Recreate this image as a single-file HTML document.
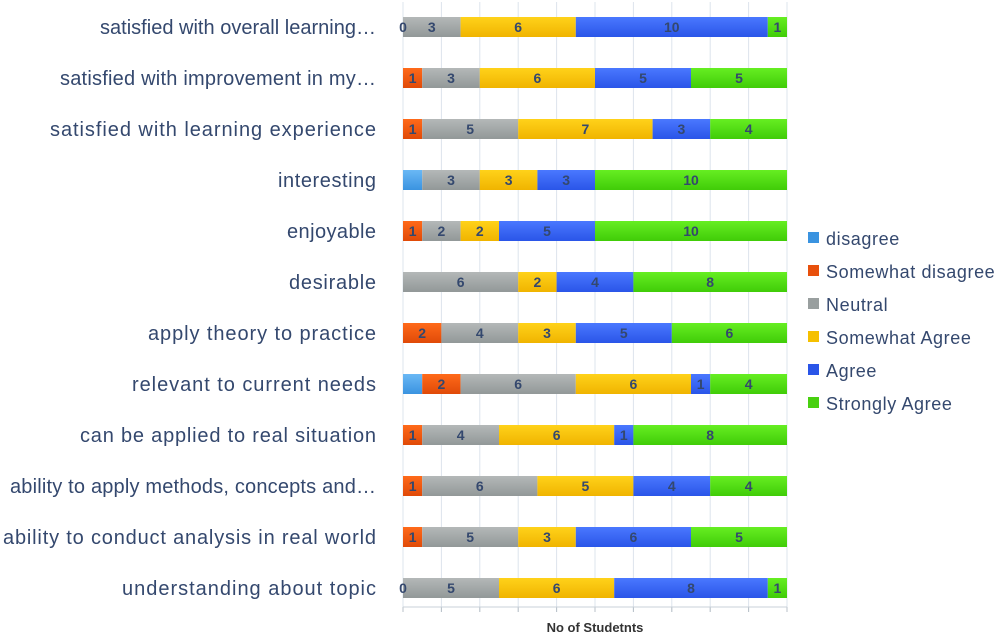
<!DOCTYPE html>
<html><head><meta charset="utf-8"><style>
body{margin:0;background:#fff;}
svg text{font-family:"Liberation Sans",sans-serif;}
</style></head><body>
<svg width="999" height="638" viewBox="0 0 999 638" xmlns="http://www.w3.org/2000/svg">
<defs>
<linearGradient id="gD" x1="0" y1="0" x2="0" y2="1"><stop offset="0" stop-color="#6ab8f5"/><stop offset="1" stop-color="#3a93e0"/></linearGradient>
<linearGradient id="gSD" x1="0" y1="0" x2="0" y2="1"><stop offset="0" stop-color="#ff6a1a"/><stop offset="1" stop-color="#e04a08"/></linearGradient>
<linearGradient id="gN" x1="0" y1="0" x2="0" y2="1"><stop offset="0" stop-color="#b4b8b8"/><stop offset="1" stop-color="#929898"/></linearGradient>
<linearGradient id="gSA" x1="0" y1="0" x2="0" y2="1"><stop offset="0" stop-color="#ffd21a"/><stop offset="1" stop-color="#f0b400"/></linearGradient>
<linearGradient id="gA" x1="0" y1="0" x2="0" y2="1"><stop offset="0" stop-color="#4a78ff"/><stop offset="1" stop-color="#2a55e8"/></linearGradient>
<linearGradient id="gS" x1="0" y1="0" x2="0" y2="1"><stop offset="0" stop-color="#66ee22"/><stop offset="1" stop-color="#40cc08"/></linearGradient>
</defs>
<g id="grid" stroke="#dde4ec" stroke-width="1"></g>
<g id="bars"></g>
<g id="labels" fill="#34486e" font-size="20"></g>
<text x="595" y="632" font-size="13" font-weight="bold" fill="#333" text-anchor="middle">No of Studetnts</text>
<g font-size="18" letter-spacing="0.6" fill="#34486e">
<rect x="808" y="232" width="11" height="11" fill="#3a93e0"/><text x="826" y="245">disagree</text>
<rect x="808" y="265" width="11" height="11" fill="#e8500c"/><text x="826" y="278">Somewhat disagree</text>
<rect x="808" y="298" width="11" height="11" fill="#999f9f"/><text x="826" y="311">Neutral</text>
<rect x="808" y="331" width="11" height="11" fill="#f5c000"/><text x="826" y="344">Somewhat Agree</text>
<rect x="808" y="364" width="11" height="11" fill="#2a55e8"/><text x="826" y="377">Agree</text>
<rect x="808" y="397" width="11" height="11" fill="#48d010"/><text x="826" y="410">Strongly Agree</text>
</g>
</svg>
<script>
const ns="http://www.w3.org/2000/svg";
const x0=403,u=19.2;
const g=document.getElementById('grid');
for(let i=0;i<=10;i++){const l=document.createElementNS(ns,'line');const x=x0+i*38.4;l.setAttribute('x1',x);l.setAttribute('x2',x);l.setAttribute('y1',2);l.setAttribute('y2',612);g.appendChild(l);
const t=document.createElementNS(ns,'line');t.setAttribute('x1',x);t.setAttribute('x2',x);t.setAttribute('y1',607);t.setAttribute('y2',612);t.setAttribute('stroke','#b8c0c8');g.appendChild(t);}
const ax=document.createElementNS(ns,'line');ax.setAttribute('x1',x0);ax.setAttribute('x2',x0+384);ax.setAttribute('y1',607);ax.setAttribute('y2',607);ax.setAttribute('stroke','#c8d0d8');g.appendChild(ax);
const names=["satisfied with overall learning…","satisfied with improvement in my…","satisfied with  learning experience","interesting","enjoyable","desirable","apply theory to practice","relevant to current needs","can be applied to real situation","ability to apply methods, concepts and…","ability to conduct analysis in real world","understanding about topic"];
const starts=[100,60,50,278,287,289,148,132,80,10,3,122];
const data=[[0,0,3,6,10,1,'z'],[0,1,3,6,5,5],[0,1,5,7,3,4],[1,0,3,3,3,10],[0,1,2,2,5,10],[0,0,6,2,4,8],[0,2,4,3,5,6],[1,2,6,6,1,4],[0,1,4,6,1,8],[0,1,6,5,4,4],[0,1,5,3,6,5],[0,0,5,6,8,1,'z']];
const fills=['url(#gD)','url(#gSD)','url(#gN)','url(#gSA)','url(#gA)','url(#gS)'];
const b=document.getElementById('bars'),lb=document.getElementById('labels');
data.forEach((r,i)=>{const cy=27+i*51;let x=x0;
 const t=document.createElementNS(ns,'text');t.setAttribute('x',starts[i]);t.setAttribute('y',cy+7);t.setAttribute('textLength',376-starts[i]);t.setAttribute('lengthAdjust','spacing');t.setAttribute('xml:space','preserve');t.textContent=names[i];lb.appendChild(t);
 for(let k=0;k<6;k++){const v=r[k];if(!v)continue;const w=v*u;
  const rc=document.createElementNS(ns,'rect');rc.setAttribute('x',x);rc.setAttribute('y',cy-10);rc.setAttribute('width',w);rc.setAttribute('height',20);rc.setAttribute('fill',fills[k]);b.appendChild(rc);
  if(k>0){const tt=document.createElementNS(ns,'text');tt.setAttribute('x',x+w/2);tt.setAttribute('y',cy+5);tt.setAttribute('text-anchor','middle');tt.setAttribute('font-size','14');tt.setAttribute('font-weight','bold');tt.setAttribute('fill','#34486e');tt.textContent=v;b.appendChild(tt);}
  x+=w;}
 if(r[6]==='z'){const tt=document.createElementNS(ns,'text');tt.setAttribute('x',x0);tt.setAttribute('y',cy+5);tt.setAttribute('text-anchor','middle');tt.setAttribute('font-size','14');tt.setAttribute('font-weight','bold');tt.setAttribute('fill','#34486e');tt.textContent='0';b.appendChild(tt);}
});
</script>
</body></html>
